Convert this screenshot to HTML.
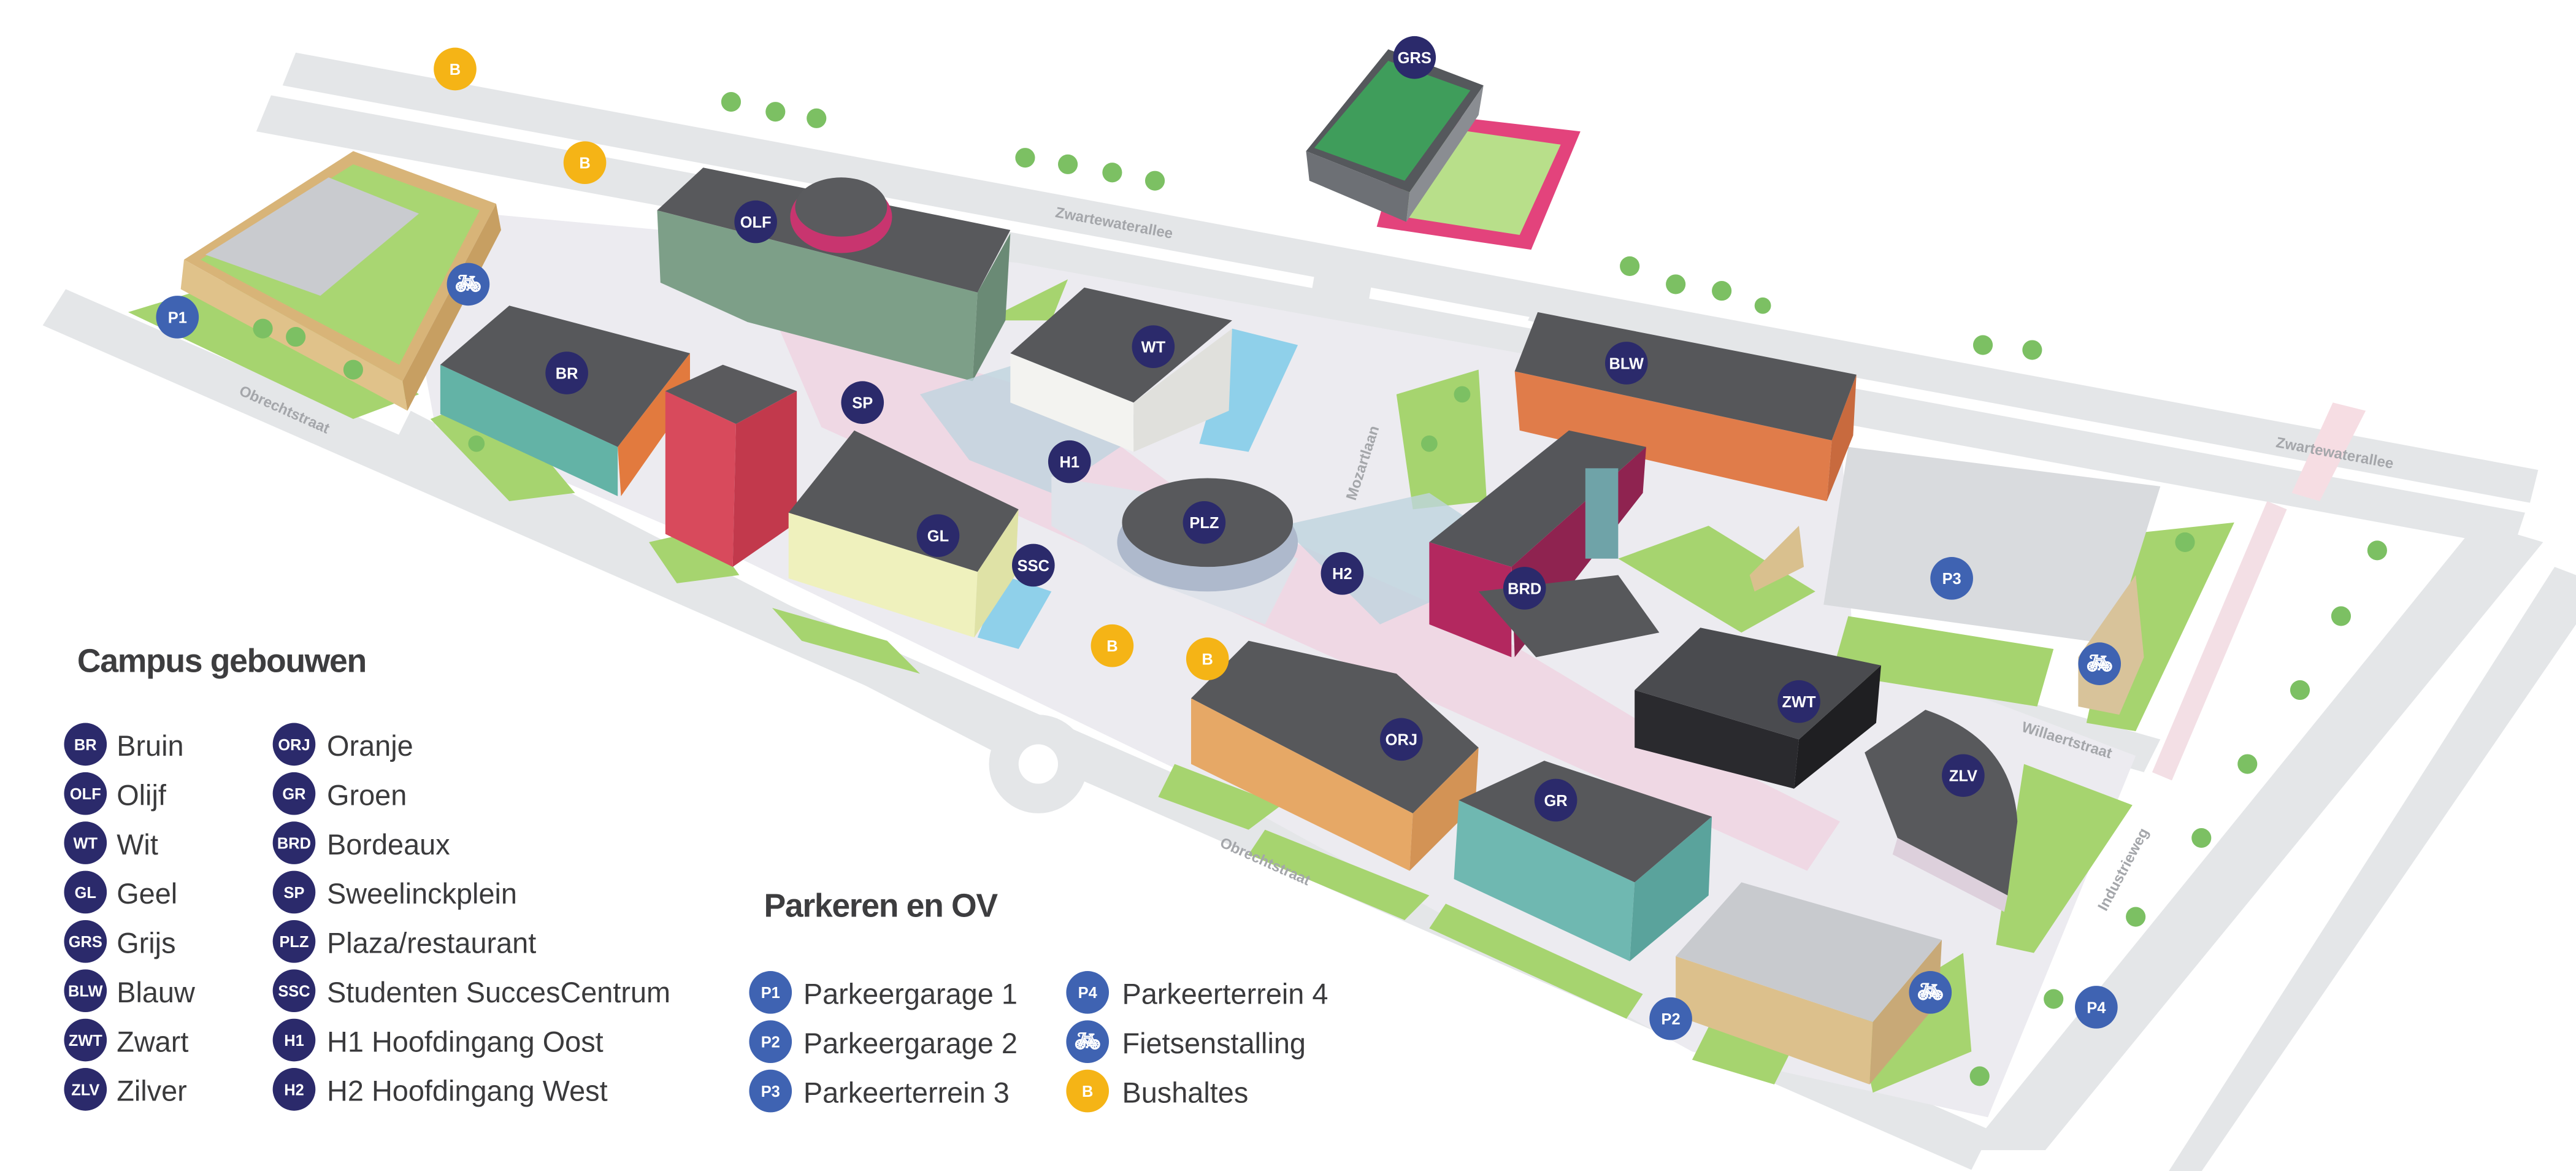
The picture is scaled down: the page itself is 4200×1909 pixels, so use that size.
<!DOCTYPE html>
<html><head><meta charset="utf-8"><style>
html,body{margin:0;padding:0;background:#fff;}
svg{display:block;}
.mk text,.lbl{font-family:"Liberation Sans",sans-serif;font-weight:bold;}
.rd{font-family:"Liberation Sans",sans-serif;font-weight:bold;font-size:9px;fill:#a4a6aa;}
.lg{font-family:"Liberation Sans",sans-serif;font-size:17.5px;fill:#3a3a3c;}
.hd{font-family:"Liberation Sans",sans-serif;font-weight:bold;font-size:20px;fill:#3d3d3f;letter-spacing:-0.5px;}
</style></head><body>
<svg width="4200" height="1909" viewBox="0 0 1568 712.7" xmlns="http://www.w3.org/2000/svg">
<rect width="1568" height="713" fill="#fff"/>
<!-- roads -->
<g fill="#e4e6e8">
<polygon points="180,32 1545,286 1540,306 172,52"/>
<polygon points="165,58 1537,312 1530,333 156,80"/>
<polygon points="40,176 1212,688 1200,712 26,198"/>
<polygon points="250,250 620,440 610,460 240,270"/>
<polygon points="1508,318 1548,330 1245,700 1198,700"/>
<polygon points="1555,345 1568,350 1568,380 1340,713 1320,713"/>
<polygon points="800,168 835,172 808,335 772,330"/>
<polygon points="1120,395 1315,450 1305,470 1112,415"/>
<polygon points="940,175 1010,190 990,210 930,195"/>
<circle cx="632" cy="465" r="30"/>
</g>
<circle cx="632" cy="465" r="12" fill="#fff"/>
<polygon points="1395,300 1420,245 1440,250 1412,305" fill="#f6dde3"/>
<polygon points="1310,470 1380,305 1392,310 1322,475" fill="#f3dfe5"/>
<!-- campus ground -->
<polygon points="240,125 620,160 1120,250 1128,395 1300,460 1210,680 1030,640 720,470 430,330 265,260" fill="#ecebf0"/>
<polygon points="470,190 640,240 720,300 900,380 1000,440 1120,500 1100,530 900,440 700,350 500,260" fill="#efd8e4"/>
<!-- greens -->
<g fill="#a6d46f">
<polygon points="78,190 160,165 255,240 215,255"/>
<polygon points="262,255 300,240 350,300 310,305"/>
<polygon points="395,330 430,322 450,350 412,355"/>
<polygon points="470,370 540,390 560,410 488,390"/>
<polygon points="850,240 900,225 905,305 860,310"/>
<polygon points="985,340 1040,320 1105,360 1060,385"/>
<polygon points="1125,375 1250,395 1240,430 1115,410"/>
<polygon points="1295,325 1360,318 1300,445 1270,440"/>
<polygon points="1232,465 1298,490 1238,580 1215,575"/>
<polygon points="715,465 780,490 760,505 705,485"/>
<polygon points="770,505 870,545 855,560 760,520"/>
<polygon points="880,550 1000,605 990,620 870,565"/>
<polygon points="1040,625 1090,640 1080,660 1030,645"/>
<polygon points="1130,620 1195,580 1200,640 1140,665"/>
<polygon points="600,195 650,170 640,195"/>
</g>
<!-- water -->
<polygon points="750,200 790,210 760,275 730,270" fill="#8fd0ea"/>
<polygon points="610,350 640,360 620,395 595,388" fill="#8fd0ea"/>
<!-- P3 lot -->
<polygon points="1125,272 1315,296 1285,392 1110,368" fill="#d9dbde"/>
<!-- GRS -->
<polygon points="858,68 962,80 932,152 838,138" fill="#e3437c"/>
<polygon points="866,76 950,88 925,143 848,131" fill="#b8df8a"/>
<polygon points="795,92 845,30 903,52 858,117" fill="#55585c"/>
<polygon points="800,90 845,37 895,55 855,110" fill="#3f9d5b"/>
<polygon points="795,92 858,117 856,135 797,110" fill="#6d7075"/>
<polygon points="858,117 903,52 900,70 856,135" fill="#8a8d92"/>
<!-- P1 garage -->
<polygon points="112,158 215,92 302,124 245,232" fill="#d8b478"/>
<polygon points="122,158 215,100 292,128 243,222" fill="#a9d672"/>
<polygon points="125,155 200,108 255,130 195,180" fill="#c9cbcf"/>
<polygon points="245,232 302,124 305,140 248,250" fill="#c79f62"/>
<polygon points="112,158 245,232 248,250 110,176" fill="#e0c28a"/>
<!-- OLF -->
<polygon points="400,128 595,178 592,232 455,196 402,172" fill="#7d9f88"/>
<polygon points="595,178 615,142 612,195 592,232" fill="#6a8a75"/>
<polygon points="400,128 428,102 615,140 595,178" fill="#58595c"/>
<ellipse cx="512" cy="132" rx="31" ry="22" fill="#c8356f"/>
<ellipse cx="512" cy="126" rx="28" ry="18" fill="#5a5b5e"/>
<!-- BR -->
<polygon points="268,222 376,272 376,302 268,252" fill="#63b3a6"/>
<polygon points="376,272 420,215 420,242 378,302" fill="#e27a3e"/>
<polygon points="268,222 310,186 420,215 376,272" fill="#57585b"/>
<!-- red building -->
<polygon points="405,238 448,258 446,345 405,325" fill="#d84a5c"/>
<polygon points="448,258 485,238 485,318 446,345" fill="#c2394c"/>
<polygon points="405,238 440,222 485,238 448,258" fill="#5a5a5d"/>
<!-- glass atrium -->
<polygon points="560,240 640,215 700,260 640,300 590,280" fill="#bfd4de" opacity="0.8"/>
<polygon points="780,320 870,300 930,340 840,380" fill="#bfd4de" opacity="0.8"/>
<!-- WT -->
<polygon points="615,215 690,245 690,275 615,245" fill="#f3f3f0"/>
<polygon points="690,245 750,200 748,250 690,275" fill="#e0e0dc"/>
<polygon points="615,215 660,175 750,195 690,245" fill="#57585b"/>
<!-- GL -->
<polygon points="480,312 595,348 593,388 480,352" fill="#eff1bd"/>
<polygon points="595,348 620,310 618,350 593,388" fill="#dfe2a6"/>
<polygon points="480,312 520,262 620,310 595,348" fill="#57585b"/>
<!-- PLZ -->
<polygon points="640,290 700,300 790,340 770,380 690,350 640,320" fill="#dfe3ea"/>
<ellipse cx="735" cy="330" rx="55" ry="30" fill="#aeb9cc"/>
<ellipse cx="735" cy="318" rx="52" ry="27" fill="#58595c"/>
<!-- BLW -->
<polygon points="922,226 1115,268 1112,305 925,262" fill="#e07c4a"/>
<polygon points="1115,268 1130,228 1128,265 1112,305" fill="#c86a3e"/>
<polygon points="922,226 936,190 1130,228 1115,268" fill="#56575a"/>
<!-- BRD -->
<polygon points="870,330 955,262 1002,272 920,345" fill="#55565a"/>
<polygon points="870,330 920,345 920,400 870,380" fill="#b3285f"/>
<polygon points="920,345 1002,272 1000,300 922,400" fill="#8f2350"/>
<polygon points="900,360 985,350 1010,385 935,400" fill="#57585b"/>
<rect x="965" y="285" width="20" height="55" fill="#6fa3a8"/>
<!-- ZWT -->
<polygon points="995,420 1095,450 1092,480 995,455" fill="#2a2a2e"/>
<polygon points="1095,450 1145,405 1142,440 1092,480" fill="#1f1f22"/>
<polygon points="995,420 1035,382 1145,405 1095,450" fill="#4a4b4f"/>
<!-- ZLV -->
<path d="M1135,458 L1172,432 Q1225,450 1228,500 L1222,545 L1155,510 Z" fill="#58595c"/>
<polygon points="1155,510 1222,545 1220,555 1152,520" fill="#ddd0dc"/>
<!-- ORJ -->
<polygon points="725,425 860,495 858,530 725,465" fill="#e6a866"/>
<polygon points="860,495 900,455 898,490 858,530" fill="#d39355"/>
<polygon points="725,425 760,390 850,410 900,455 860,495" fill="#57585b"/>
<!-- GR -->
<polygon points="888,487 995,537 992,585 885,535" fill="#6fb8b1"/>
<polygon points="995,537 1042,497 1040,545 992,585" fill="#5aa39c"/>
<polygon points="888,487 940,463 1042,497 995,537" fill="#57585b"/>
<!-- P2 -->
<polygon points="1020,582 1140,622 1138,660 1020,618" fill="#dcc08c"/>
<polygon points="1140,622 1182,572 1180,610 1138,660" fill="#c8a977"/>
<polygon points="1020,582 1060,537 1182,572 1140,622" fill="#c8cace"/>
<!-- P3 small shed, P4 building -->
<polygon points="1265,400 1300,350 1305,400 1290,435 1265,430" fill="#d8c39a"/>
<polygon points="1065,350 1095,320 1098,345 1068,360" fill="#d9c08e"/>
<!-- trees -->
<g fill="#7cc063">
<circle cx="445" cy="62" r="6"/><circle cx="472" cy="68" r="6"/><circle cx="497" cy="72" r="6"/>
<circle cx="624" cy="96" r="6"/><circle cx="650" cy="100" r="6"/><circle cx="677" cy="105" r="6"/><circle cx="703" cy="110" r="6"/>
<circle cx="992" cy="162" r="6"/><circle cx="1020" cy="173" r="6"/><circle cx="1048" cy="177" r="6"/><circle cx="1073" cy="186" r="5"/>
<circle cx="1207" cy="210" r="6"/><circle cx="1237" cy="213" r="6"/>
<circle cx="1447" cy="335" r="6"/><circle cx="1425" cy="375" r="6"/><circle cx="1400" cy="420" r="6"/><circle cx="1368" cy="465" r="6"/>
<circle cx="1340" cy="510" r="6"/><circle cx="1300" cy="558" r="6"/><circle cx="1250" cy="608" r="6"/><circle cx="1205" cy="655" r="6"/>
<circle cx="160" cy="200" r="6"/><circle cx="180" cy="205" r="6"/><circle cx="215" cy="225" r="6"/><circle cx="290" cy="270" r="5"/>
<circle cx="870" cy="270" r="5"/><circle cx="890" cy="240" r="5"/><circle cx="1330" cy="330" r="6"/>
</g>
<!-- road labels -->
<text class="rd" transform="translate(642,132) rotate(10.5)">Zwartewaterallee</text>
<text class="rd" transform="translate(1385,272) rotate(10.5)">Zwartewaterallee</text>
<text class="rd" transform="translate(145,240) rotate(24)">Obrechtstraat</text>
<text class="rd" transform="translate(742,515) rotate(24)">Obrechtstraat</text>
<text class="rd" transform="translate(825,305) rotate(-72)">Mozartlaan</text>
<text class="rd" transform="translate(1230,445) rotate(17)">Willaertstraat</text>
<text class="rd" transform="translate(1282,555) rotate(-62)">Industrieweg</text>
<!-- markers -->
<g class="mk" text-anchor="middle" font-size="9.5" fill="#fff">
<g fill="#2b2a6b">
<circle cx="861" cy="35" r="13"/><circle cx="460" cy="135" r="13"/><circle cx="345" cy="227" r="13"/>
<circle cx="525" cy="245" r="13"/><circle cx="702" cy="211" r="13"/><circle cx="990" cy="221" r="13"/>
<circle cx="651" cy="281" r="13"/><circle cx="733" cy="318" r="13"/><circle cx="571" cy="326" r="13"/>
<circle cx="629" cy="344" r="13"/><circle cx="817" cy="349" r="13"/><circle cx="928" cy="358" r="13"/>
<circle cx="853" cy="450" r="13"/><circle cx="1095" cy="427" r="13"/><circle cx="1195" cy="472" r="13"/><circle cx="947" cy="487" r="13"/>
</g>
<g fill="#3f63b2">
<circle cx="108" cy="193" r="13"/><circle cx="285" cy="173" r="13"/><circle cx="1188" cy="352" r="13"/>
<circle cx="1278" cy="404" r="13"/><circle cx="1017" cy="620" r="13"/><circle cx="1175" cy="604" r="13"/><circle cx="1276" cy="613" r="13"/>
</g>
<g fill="#f5b416">
<circle cx="277" cy="42" r="13"/><circle cx="356" cy="99" r="13"/><circle cx="677" cy="393" r="13"/><circle cx="735" cy="401" r="13"/>
</g>
<text x="861" y="38.5">GRS</text><text x="460" y="138.5">OLF</text><text x="345" y="230.5">BR</text>
<text x="525" y="248.5">SP</text><text x="702" y="214.5">WT</text><text x="990" y="224.5">BLW</text>
<text x="651" y="284.5">H1</text><text x="733" y="321.5">PLZ</text><text x="571" y="329.5">GL</text>
<text x="629" y="347.5">SSC</text><text x="817" y="352.5">H2</text><text x="928" y="361.5">BRD</text>
<text x="853" y="453.5">ORJ</text><text x="1095" y="430.5">ZWT</text><text x="1195" y="475.5">ZLV</text><text x="947" y="490.5">GR</text>
<text x="108" y="196.5">P1</text><text x="1188" y="355.5">P3</text><text x="1017" y="623.5">P2</text><text x="1276" y="616.5">P4</text>
<text x="285" y="177" font-size="13">🚲︎</text><text x="1278" y="408" font-size="13">🚲︎</text><text x="1175" y="608" font-size="13">🚲︎</text>
<text x="277" y="45.5">B</text><text x="356" y="102.5">B</text><text x="677" y="396.5">B</text><text x="735" y="404.5">B</text>
</g>
<!-- legend -->
<text class="hd" x="47" y="409">Campus gebouwen</text>
<text class="hd" x="465" y="558">Parkeren en OV</text>
<g class="mk" text-anchor="middle" font-size="9.5" fill="#fff">
<g fill="#2b2a6b">
<circle cx="52" cy="453" r="13"/><circle cx="52" cy="483" r="13"/><circle cx="52" cy="513" r="13"/><circle cx="52" cy="543" r="13"/>
<circle cx="52" cy="573" r="13"/><circle cx="52" cy="603" r="13"/><circle cx="52" cy="633" r="13"/><circle cx="52" cy="663" r="13"/>
<circle cx="179" cy="453" r="13"/><circle cx="179" cy="483" r="13"/><circle cx="179" cy="513" r="13"/><circle cx="179" cy="543" r="13"/>
<circle cx="179" cy="573" r="13"/><circle cx="179" cy="603" r="13"/><circle cx="179" cy="633" r="13"/><circle cx="179" cy="663" r="13"/>
</g>
<g fill="#3f63b2"><circle cx="469" cy="604" r="13"/><circle cx="469" cy="634" r="13"/><circle cx="469" cy="664" r="13"/>
<circle cx="662" cy="604" r="13"/><circle cx="662" cy="634" r="13"/></g>
<circle cx="662" cy="664" r="13" fill="#f5b416"/>
<text x="52" y="456.5">BR</text><text x="52" y="486.5">OLF</text><text x="52" y="516.5">WT</text><text x="52" y="546.5">GL</text>
<text x="52" y="576.5">GRS</text><text x="52" y="606.5">BLW</text><text x="52" y="636.5">ZWT</text><text x="52" y="666.5">ZLV</text>
<text x="179" y="456.5">ORJ</text><text x="179" y="486.5">GR</text><text x="179" y="516.5">BRD</text><text x="179" y="546.5">SP</text>
<text x="179" y="576.5">PLZ</text><text x="179" y="606.5">SSC</text><text x="179" y="636.5">H1</text><text x="179" y="666.5">H2</text>
<text x="469" y="607.5">P1</text><text x="469" y="637.5">P2</text><text x="469" y="667.5">P3</text><text x="662" y="607.5">P4</text>
<text x="662" y="638" font-size="13">🚲︎</text><text x="662" y="667.5">B</text>
</g>
<g class="lg">
<text x="71" y="460">Bruin</text><text x="71" y="490">Olijf</text><text x="71" y="520">Wit</text><text x="71" y="550">Geel</text>
<text x="71" y="580">Grijs</text><text x="71" y="610">Blauw</text><text x="71" y="640">Zwart</text><text x="71" y="670">Zilver</text>
<text x="199" y="460">Oranje</text><text x="199" y="490">Groen</text><text x="199" y="520">Bordeaux</text><text x="199" y="550">Sweelinckplein</text>
<text x="199" y="580">Plaza/restaurant</text><text x="199" y="610">Studenten SuccesCentrum</text><text x="199" y="640">H1 Hoofdingang Oost</text><text x="199" y="670">H2 Hoofdingang West</text>
<text x="489" y="611">Parkeergarage 1</text><text x="489" y="641">Parkeergarage 2</text><text x="489" y="671">Parkeerterrein 3</text>
<text x="683" y="611">Parkeerterrein 4</text><text x="683" y="641">Fietsenstalling</text><text x="683" y="671">Bushaltes</text>
</g>
</svg>
</body></html>
